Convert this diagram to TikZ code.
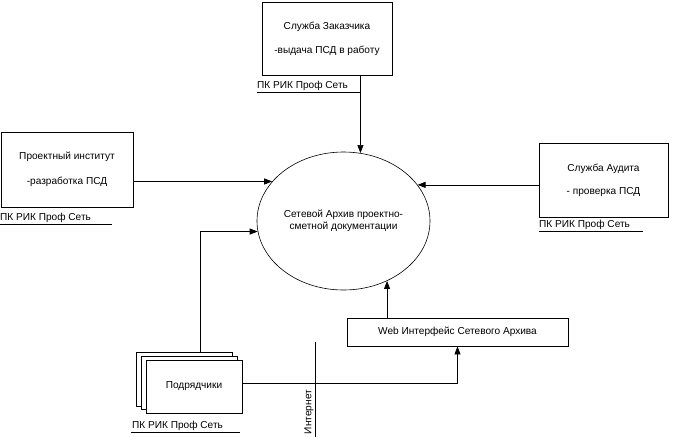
\documentclass[tikz,border=0pt]{standalone}
\usepackage{fontspec}
\setmainfont{Liberation Sans}
\usetikzlibrary{arrows.meta,shapes.geometric}
\begin{document}
\begin{tikzpicture}[x=1pt,y=-1pt,
  font=\fontsize{10.1}{11.5}\selectfont,
  box/.style={draw,line width=0.8pt,inner sep=0pt,align=center},
  conn/.style={line width=0.7pt},
  arr/.style={conn,-{Triangle[length=8pt,width=6pt]}},
  lbl/.style={anchor=base west,inner sep=0pt},
  uline/.style={line width=0.7pt}]
\useasboundingbox (0,0) rectangle (673,437);
\fill[white] (0,0) rectangle (673,437);

% boxes
\node[box,minimum width=130pt,minimum height=73pt] (top) at (327,38.5)
  {Служба Заказчика\\[12.5pt]-выдача ПСД в работу};
\node[box,minimum width=132pt,minimum height=75pt] (left) at (67,169.5)
  {Проектный институт\\[13.5pt]-разработка ПСД};
\node[box,minimum width=129pt,minimum height=74pt] (right) at (603.5,180)
  {Служба Аудита\\[11.5pt]- проверка ПСД};
\node[box,minimum width=221pt,minimum height=28pt] (web) at (457.5,332)
  {Web Интерфейс Сетевого Архива};
\node[draw,ellipse,line width=0.6pt,minimum width=173pt,minimum height=138pt,inner sep=0pt,align=center] (ell) at (343.5,221)
  {Сетевой Архив проектно-\\[1pt]сметной документации};

% stacked contractors
\node[box,fill=white,minimum width=96pt,minimum height=54pt] (back) at (184,379) {};
\node[box,fill=white,minimum width=96pt,minimum height=53pt] (mid) at (189,382.5) {};
\node[box,fill=white,minimum width=96pt,minimum height=53pt] (front) at (194,386.5) {Подрядчики};

% labels
\node[lbl] (ltop) at (257,88.5) {ПК РИК Проф Сеть};
\draw[uline] (257,92) -- (360,92);
\node[lbl] (lleft) at (0,220.5) {ПК РИК Проф Сеть};
\draw[uline] (0,224) -- (112,224);
\node[lbl] (lright) at (539,227.5) {ПК РИК Проф Сеть};
\draw[uline] (539,231) -- (643,231);
\node[lbl] (lpod) at (132,428.5) {ПК РИК Проф Сеть};
\draw[uline] (131,432) -- (240,432);

% internet
\coordinate (i1) at (315,342);
\coordinate (i2) at (315,437);
\draw[conn] (i1) -- (i2);
\node[rotate=90,inner sep=0pt] (inet) at (309,412) {Интернет};

% connectors
\draw[arr] (ell.76.4 |- top.south) -- (ell.76.4);
\draw[arr] (left.east |- ell.151.4) -- (ell.151.4);
\draw[arr] (right.west |- ell.26) -- (ell.26);
\draw[arr] (ell.-54.7 |- web.north) -- (ell.-54.7);
\draw[arr] ([xshift=16pt]back.north) |- (ell.187.3);
\draw[arr] ([yshift=3.5pt]front.east) -| (web.south);
\end{tikzpicture}
\end{document}
